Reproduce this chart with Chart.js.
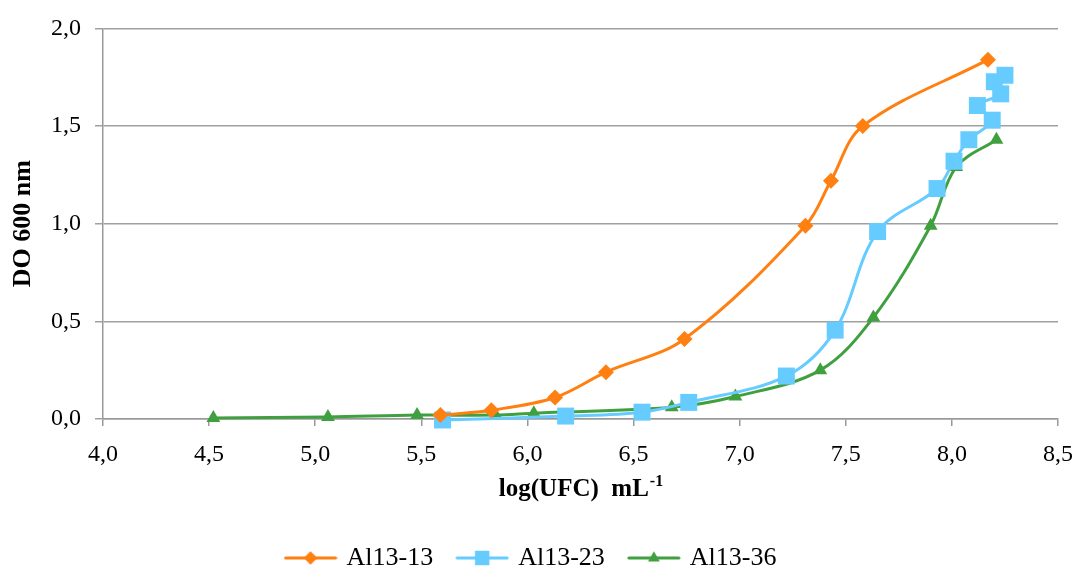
<!DOCTYPE html>
<html>
<head>
<meta charset="utf-8">
<script src="https://cdn.jsdelivr.net/npm/chart.js@4/dist/chart.umd.min.js"></script>
<style>
  html, body { margin: 0; padding: 0; background: #fff; }
  #wrap { width: 1087px; height: 573px; }
</style>
</head>
<body>
<div id="wrap"><canvas id="c" width="1087" height="573"></canvas></div>
<script>
// ---- data ----
const seriesNames = ['Al13-13', 'Al13-23', 'Al13-36'];
const al13_13_x = [5.59, 5.83, 6.13, 6.37, 6.74, 7.31, 7.43, 7.58, 8.17];
const al13_13_y = [0.02, 0.045, 0.11, 0.24, 0.41, 0.99, 1.22, 1.50, 1.84];
const al13_23_x = [5.60, 6.18, 6.54, 6.76, 7.22, 7.45, 7.65, 7.93, 8.01, 8.08, 8.19, 8.12, 8.23, 8.20, 8.25];
const al13_23_y = [-0.005, 0.015, 0.035, 0.085, 0.22, 0.455, 0.96, 1.18, 1.32, 1.43, 1.53, 1.605, 1.665, 1.727, 1.76];
const al13_36_x = [4.52, 5.06, 5.48, 5.85, 6.03, 6.68, 6.98, 7.38, 7.63, 7.90, 8.02, 8.21];
const al13_36_y = [0.005, 0.01, 0.02, 0.02, 0.03, 0.06, 0.115, 0.25, 0.52, 0.99, 1.29, 1.43];
const xTickValues = [4.0, 4.5, 5.0, 5.5, 6.0, 6.5, 7.0, 7.5, 8.0, 8.5];
const yTickValues = [0.0, 0.5, 1.0, 1.5, 2.0];
const yTitle = 'DO 600 nm';
const xTitleMain = 'log(UFC)  mL';
const xTitleSup = '-1';

const colors = ['#FF7F11', '#66CCFF', '#40A040'];
const styles = ['rectRot', 'rect', 'triangle'];
const radii = [8, 12, 8];
const FONT = '"Liberation Serif", "Times New Roman", serif';

function pts(xs, ys) { return xs.map((x, i) => ({ x: x, y: ys[i] })); }

function legendIcon(color, style, r) {
  const cv = document.createElement('canvas');
  cv.width = 54; cv.height = 22;
  const g = cv.getContext('2d');
  g.strokeStyle = color; g.lineWidth = 3; g.lineCap = 'round';
  g.beginPath(); g.moveTo(2, 11); g.lineTo(52, 11); g.stroke();
  g.fillStyle = color;
  g.beginPath();
  const rr = r * 0.85;
  if (style === 'rectRot') { g.moveTo(27, 11 - rr); g.lineTo(27 + rr, 11); g.lineTo(27, 11 + rr); g.lineTo(27 - rr, 11); }
  else if (style === 'rect') { const h = rr * Math.SQRT1_2; g.rect(27 - h, 11 - h, 2 * h, 2 * h); }
  else { g.moveTo(27, 11 - rr); g.lineTo(27 + rr * 0.866, 11 + rr * 0.5); g.lineTo(27 - rr * 0.866, 11 + rr * 0.5); }
  g.closePath(); g.fill();
  return cv;
}

const datasets = [
  pts(al13_13_x, al13_13_y),
  pts(al13_23_x, al13_23_y),
  pts(al13_36_x, al13_36_y)
].map((d, i) => ({
  label: seriesNames[i],
  data: d,
  showLine: true,
  borderColor: colors[i],
  backgroundColor: colors[i],
  borderWidth: 3,
  tension: 0.35,
  pointStyle: styles[i],
  pointRadius: radii[i],
  pointHoverRadius: radii[i],
  pointBackgroundColor: colors[i],
  pointBorderColor: colors[i],
  pointBorderWidth: 0,
  clip: false
}));

const xTitlePlugin = {
  id: 'xTitle',
  afterDraw(chart) {
    const ctx = chart.ctx;
    const a = chart.chartArea;
    ctx.save();
    ctx.fillStyle = '#000';
    ctx.textBaseline = 'alphabetic';
    ctx.font = 'bold 25px ' + FONT;
    const w1 = ctx.measureText(xTitleMain).width;
    ctx.font = 'bold 16px ' + FONT;
    const w2 = ctx.measureText(xTitleSup).width;
    const cx = (a.left + a.right) / 2;
    const x0 = cx - (w1 + w2) / 2;
    const yb = 496;
    ctx.font = 'bold 25px ' + FONT;
    ctx.textAlign = 'left';
    ctx.fillText(xTitleMain, x0, yb);
    ctx.font = 'bold 16px ' + FONT;
    ctx.fillText(xTitleSup, x0 + w1 + 1, yb - 10);
    ctx.restore();
  }
};

new Chart(document.getElementById('c'), {
  type: 'scatter',
  data: { datasets: datasets },
  plugins: [xTitlePlugin],
  options: {
    responsive: false,
    animation: false,
    events: [],
    layout: { padding: { top: 23, right: 23, left: 0, bottom: -8 } },
    plugins: {
      tooltip: { enabled: false },
      legend: {
        position: 'bottom',
        labels: {
          usePointStyle: true,
          pointStyleWidth: 46,
          boxHeight: 22,
          padding: 26,
          color: '#000',
          font: { family: FONT, size: 26 },
          generateLabels(chart) {
            return chart.data.datasets.map((ds, i) => ({
              text: ds.label,
              pointStyle: legendIcon(colors[i], styles[i], radii[i]),
              fillStyle: colors[i],
              strokeStyle: colors[i],
              lineWidth: 0,
              hidden: false,
              datasetIndex: i,
              fontColor: '#000'
            }));
          }
        }
      }
    },
    scales: {
      x: {
        type: 'linear',
        min: 4.0,
        max: 8.5,
        afterBuildTicks(scale) { scale.ticks = xTickValues.map(v => ({ value: v })); },
        afterFit(scale) { scale.height = 100; },
        border: { display: true, color: '#999', width: 1.5 },
        grid: { drawOnChartArea: false, drawTicks: true, tickLength: 7, color: '#999', lineWidth: 1.5 },
        ticks: {
          padding: 14,
          color: '#000',
          font: { family: FONT, size: 24 },
          maxRotation: 0,
          callback: v => v.toFixed(1).replace('.', ',')
        }
      },
      y: {
        type: 'linear',
        min: 0,
        max: 2.0,
        afterBuildTicks(scale) { scale.ticks = yTickValues.map(v => ({ value: v })); },
        afterFit(scale) { scale.width = 103; },
        border: { display: true, color: '#999', width: 1.5 },
        grid: { drawTicks: true, tickLength: 8, color: '#a0a0a0', lineWidth: 1.5 },
        title: {
          display: true,
          text: yTitle,
          color: '#000',
          font: { family: FONT, size: 26, weight: 'bold' },
          padding: { top: 8, bottom: 0 }
        },
        ticks: {
          padding: 14,
          color: '#000',
          font: { family: FONT, size: 24 },
          callback: v => v.toFixed(1).replace('.', ',')
        }
      }
    }
  }
});
</script>
</body>
</html>
